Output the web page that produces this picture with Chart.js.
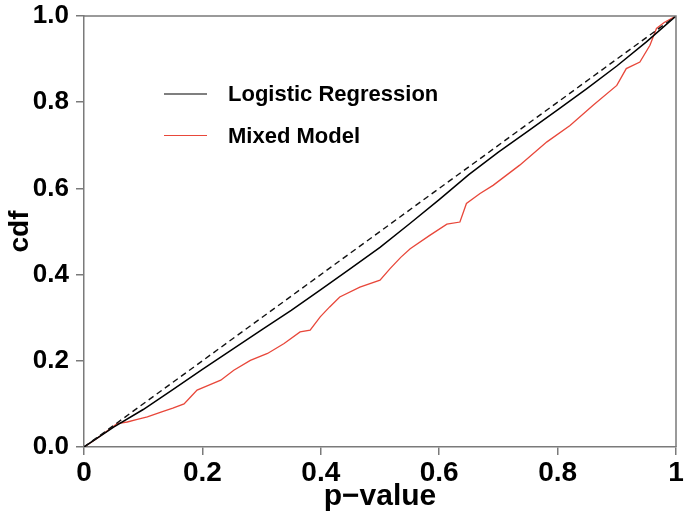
<!DOCTYPE html>
<html>
<head>
<meta charset="utf-8">
<script src="https://cdn.jsdelivr.net/npm/chart.js@4/dist/chart.umd.min.js"></script>
<style>
  html, body { margin: 0; padding: 0; background: #fff; }
  #cdf { display: block; }
</style>
</head>
<body>
<canvas id="cdf" width="685" height="516"></canvas>
<script>
// 読み取った値
const seriesNames = ["Logistic Regression", "Mixed Model"];

const logitX = [0, 0.05, 0.1, 0.15, 0.2, 0.25, 0.3, 0.35, 0.4, 0.45, 0.5,
                0.55, 0.6, 0.65, 0.7, 0.75, 0.8, 0.85, 0.9, 0.95, 1];
const logitY = [0, 0.046, 0.087, 0.133, 0.18, 0.226, 0.272, 0.317, 0.365, 0.414, 0.463,
                0.518, 0.574, 0.632, 0.684, 0.733, 0.782, 0.832, 0.884, 0.94, 1];

const mixedX = [0, 0.02, 0.04, 0.056, 0.073, 0.09, 0.107, 0.13, 0.15, 0.169, 0.18,
                0.191, 0.21, 0.231, 0.253, 0.281, 0.31, 0.338, 0.365, 0.382, 0.399,
                0.415, 0.432, 0.466, 0.5, 0.517, 0.535, 0.551, 0.584, 0.613, 0.635,
                0.646, 0.669, 0.691, 0.736, 0.782, 0.821, 0.86, 0.9, 0.916, 0.939,
                0.956, 0.967, 0.98, 1];
const mixedY = [0, 0.018, 0.038, 0.054, 0.058, 0.064, 0.07, 0.081, 0.09, 0.1, 0.116,
                0.132, 0.143, 0.155, 0.178, 0.201, 0.217, 0.24, 0.267, 0.271, 0.302,
                0.325, 0.348, 0.371, 0.387, 0.414, 0.44, 0.46, 0.491, 0.517, 0.522,
                0.565, 0.588, 0.607, 0.654, 0.708, 0.746, 0.793, 0.839, 0.878, 0.893,
                0.932, 0.971, 0.985, 1];

const refX = [0, 1];
const refY = [0, 1];

const xTicks = [0, 0.2, 0.4, 0.6, 0.8, 1];
const xTickLabels = ["0", "0.2", "0.4", "0.6", "0.8", "1"];
const yTicks = [0, 0.2, 0.4, 0.6, 0.8, 1];
const yTickLabels = ["0.0", "0.2", "0.4", "0.6", "0.8", "1.0"];

function pts(xs, ys) {
    return xs.map((x, i) => ({ x: x, y: ys[i] }));
}

const FONT = "'Liberation Sans', Arial, Helvetica, sans-serif";
const AXIS = "#7a7a7a";

// 枠線と凡例
const framePlugin = {
    id: "frame",
    afterDraw(chart) {
        const c = chart.ctx, a = chart.chartArea;
        c.save();
        c.strokeStyle = AXIS;
        c.lineWidth = 1.5;
        c.beginPath();
        c.moveTo(a.left, a.top);
        c.lineTo(a.right, a.top);
        c.lineTo(a.right, a.bottom);
        c.stroke();

        const items = chart.data.datasets.filter(d => !d.hideLegend);
        c.font = "bold 22px " + FONT;
        c.textBaseline = "middle";
        items.forEach((d, i) => {
            const y = 94 + i * 41.5;
            c.strokeStyle = d.borderColor;
            c.lineWidth = 1.2;
            c.beginPath();
            c.moveTo(164, y);
            c.lineTo(207, y);
            c.stroke();
            c.fillStyle = "#000";
            c.fillText(d.label, 228, y + 1);
        });
        c.restore();
    }
};

window.addEventListener("load", function() {
    let ctx = document.getElementById("cdf").getContext("2d");
    new Chart(ctx, {
        type: "scatter",
        data: {
            datasets: [{
                label: "reference",
                hideLegend: true,
                data: pts(refX, refY),
                showLine: true,
                borderColor: "#111",
                borderWidth: 1.4,
                borderDash: [6, 4],
                pointRadius: 0
            }, {
                label: seriesNames[0],
                data: pts(logitX, logitY),
                showLine: true,
                borderColor: "#000",
                borderWidth: 1.5,
                pointRadius: 0
            }, {
                label: seriesNames[1],
                data: pts(mixedX, mixedY),
                showLine: true,
                borderColor: "#e8473a",
                borderWidth: 1.3,
                pointRadius: 0
            }]
        },
        options: {
            responsive: false,
            animation: false,
            layout: { padding: { top: 16, right: 9, left: 0, bottom: 0 } },
            plugins: {
                legend: { display: false },
                tooltip: { enabled: false }
            },
            scales: {
                x: {
                    type: "linear",
                    min: 0, max: 1,
                    afterFit: s => { s.height = 69; s.paddingLeft = 0; s.paddingRight = 0; },
                    afterBuildTicks: s => { s.ticks = xTicks.map(v => ({ value: v })); },
                    border: { color: AXIS, width: 1.5 },
                    grid: { drawOnChartArea: false, color: AXIS, lineWidth: 1.5, tickLength: 8 },
                    ticks: {
                        color: "#000",
                        padding: 1,
                        maxRotation: 0,
                        font: { family: FONT, size: 28, weight: "bold" },
                        callback: (v) => xTickLabels[xTicks.indexOf(v)]
                    },
                    title: {
                        display: true,
                        text: "p\u2212value",
                        color: "#000",
                        padding: { top: 0, bottom: 1 },
                        font: { family: FONT, size: 30, weight: "bold" }
                    }
                },
                y: {
                    type: "linear",
                    min: 0, max: 1,
                    afterFit: s => { s.width = 84; s.paddingTop = 0; s.paddingBottom = 0; },
                    afterBuildTicks: s => { s.ticks = yTicks.map(v => ({ value: v })); },
                    border: { color: AXIS, width: 1.5 },
                    grid: { drawOnChartArea: false, color: AXIS, lineWidth: 1.5, tickLength: 8 },
                    ticks: {
                        color: "#000",
                        padding: 7,
                        font: { family: FONT, size: 26, weight: "bold" },
                        callback: (v) => yTickLabels[yTicks.indexOf(v)]
                    },
                    title: {
                        display: true,
                        text: "cdf",
                        color: "#000",
                        padding: { top: 3, bottom: 0 },
                        font: { family: FONT, size: 28, weight: "bold" }
                    }
                }
            }
        },
        plugins: [framePlugin]
    });
}, false);
</script>
</body>
</html>
